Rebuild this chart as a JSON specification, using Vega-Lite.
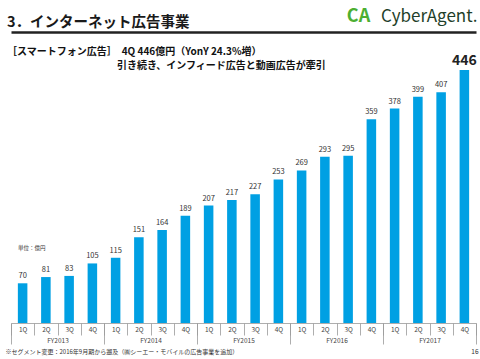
{
  "$schema": "https://vega.github.io/schema/vega-lite/v6.json",
  "width": 465,
  "height": 291,
  "autosize": {"type": "none"},
  "padding": {"left": 11, "top": 32, "right": 4, "bottom": 36},
  "background": "white",
  "config": {"font": "Noto Sans CJK JP", "view": {"stroke": null}},
  "title": {
    "text": "3．インターネット広告事業",
    "subtitle": ["［スマートフォン広告］　4Q 446億円（YonY 24.3%増）", "\u200B\u3000\u3000\u3000\u3000\u3000\u3000\u3000\u3000\u3000\u3000\u3000引き続き、インフィード広告と動画広告が牽引"],
    "anchor": "start",
    "frame": "group",
    "fontSize": 14.5,
    "fontWeight": "bold",
    "color": "#1a1a1a",
    "subtitleFontSize": 10,
    "subtitleFontWeight": "bold",
    "subtitleColor": "#111111",
    "subtitlePadding": 17,
    "subtitleLineHeight": 14,
    "dx": -4,
    "dy": 65,
    "offset": 0
  },
  "datasets": {
    "q": [
      {"q": "FY2013 1Q", "v": 70}, {"q": "FY2013 2Q", "v": 81}, {"q": "FY2013 3Q", "v": 83}, {"q": "FY2013 4Q", "v": 105},
      {"q": "FY2014 1Q", "v": 115}, {"q": "FY2014 2Q", "v": 151}, {"q": "FY2014 3Q", "v": 164}, {"q": "FY2014 4Q", "v": 189},
      {"q": "FY2015 1Q", "v": 207}, {"q": "FY2015 2Q", "v": 217}, {"q": "FY2015 3Q", "v": 227}, {"q": "FY2015 4Q", "v": 253},
      {"q": "FY2016 1Q", "v": 269}, {"q": "FY2016 2Q", "v": 293}, {"q": "FY2016 3Q", "v": 295}, {"q": "FY2016 4Q", "v": 359},
      {"q": "FY2017 1Q", "v": 378}, {"q": "FY2017 2Q", "v": 399}, {"q": "FY2017 3Q", "v": 407}, {"q": "FY2017 4Q", "v": 446}
    ],
    "fy": [
      {"fy": "FY2013", "z": 0}, {"fy": "FY2014", "z": 0}, {"fy": "FY2015", "z": 0}, {"fy": "FY2016", "z": 0}, {"fy": "FY2017", "z": 0}
    ]
  },
  "layer": [
    {
      "data": {"name": "q"},
      "encoding": {
        "x": {
          "field": "q", "type": "nominal", "sort": null,
          "scale": {"paddingInner": 0, "paddingOuter": 0},
          "axis": {
            "orient": "bottom",
            "title": "※セグメント変更：2016年9月期から遡及（㈱シーエー・モバイルの広告事業を追加）",
            "labelExpr": "slice(datum.label, -2)",
            "domainColor": "#999999", "domainWidth": 0.8,
            "tickBand": "extent", "tickSize": 12, "tickColor": "#999999", "tickWidth": 0.8,
            "labelPadding": -9, "labelFontSize": 6.5, "labelColor": "#444444", "labelAngle": 0,
            "titleX": -6, "titleY": 28.5, "titleAlign": "left", "titleAnchor": "start", "titleBaseline": "middle",
            "titleFontSize": 6, "titleFontWeight": "normal", "titleColor": "#333333"
          }
        },
        "y": {
          "field": "v", "type": "quantitative",
          "scale": {"domain": [0, 513]},
          "axis": {
            "title": "単位：億円", "domain": false, "ticks": false, "labels": false, "grid": false,
            "titleAngle": 0, "titleX": 6.5, "titleY": 215, "titleAlign": "left", "titleBaseline": "middle",
            "titleFontSize": 5.5, "titleFontWeight": "normal", "titleColor": "#333333"
          }
        }
      },
      "layer": [
        {"mark": {"type": "bar", "color": "#00A0E3", "width": {"band": 0.41}}},
        {
          "transform": [{"filter": "datum.v < 446"}],
          "mark": {"type": "text", "baseline": "bottom", "dy": -3, "fontSize": 7.5, "color": "#333333"},
          "encoding": {"text": {"field": "v", "type": "quantitative"}}
        },
        {
          "transform": [{"filter": "datum.v == 446"}],
          "mark": {"type": "text", "baseline": "bottom", "dy": -2, "fontSize": 14, "fontWeight": "bold", "color": "#222222"},
          "encoding": {"text": {"field": "v", "type": "quantitative"}}
        }
      ]
    },
    {
      "data": {"name": "fy"},
      "mark": {"type": "point", "opacity": 0},
      "encoding": {
        "x": {
          "field": "fy", "type": "nominal", "sort": null,
          "scale": {"paddingInner": 0, "paddingOuter": 0},
          "axis": {
            "orient": "bottom", "domain": false,
            "tickBand": "extent", "tickSize": 21, "tickColor": "#999999", "tickWidth": 0.8,
            "labelPadding": -7, "labelFontSize": 6.5, "labelColor": "#444444", "labelAngle": 0,
            "title": "16", "titleX": 467, "titleY": 28, "titleAlign": "right", "titleAnchor": "end", "titleBaseline": "middle",
            "titleFontSize": 6.5, "titleFontWeight": "normal", "titleColor": "#333333"
          }
        }
      }
    },
    {
      "data": {"name": "fy"},
      "mark": {"type": "point", "opacity": 0},
      "encoding": {
        "x": {
          "field": "fy", "type": "nominal", "sort": null,
          "scale": {"paddingInner": 0, "paddingOuter": 0},
          "axis": {
            "orient": "top", "domainColor": "#222222", "domainWidth": 2.5,
            "ticks": false, "labels": false,
            "title": "CyberAgent.", "titleX": 466, "titleY": -16, "titleAlign": "right", "titleAnchor": "end", "titleBaseline": "middle",
            "titleFontSize": 17, "titleFontWeight": "normal", "titleColor": "#1f3f2a"
          }
        },
        "y": {
          "field": "z", "type": "quantitative",
          "scale": {"domain": [0, 1]},
          "axis": {
            "orient": "right", "domain": false, "ticks": false, "labels": false, "grid": false,
            "title": "CA", "titleAngle": 0, "titleX": -118, "titleY": -16, "titleAlign": "center", "titleBaseline": "middle",
            "titleFontSize": 18, "titleFontWeight": "bold", "titleColor": "#4CAF32"
          }
        }
      }
    }
  ],
  "resolve": {"scale": {"x": "independent", "y": "independent"}, "axis": {"x": "independent", "y": "independent"}}
}
